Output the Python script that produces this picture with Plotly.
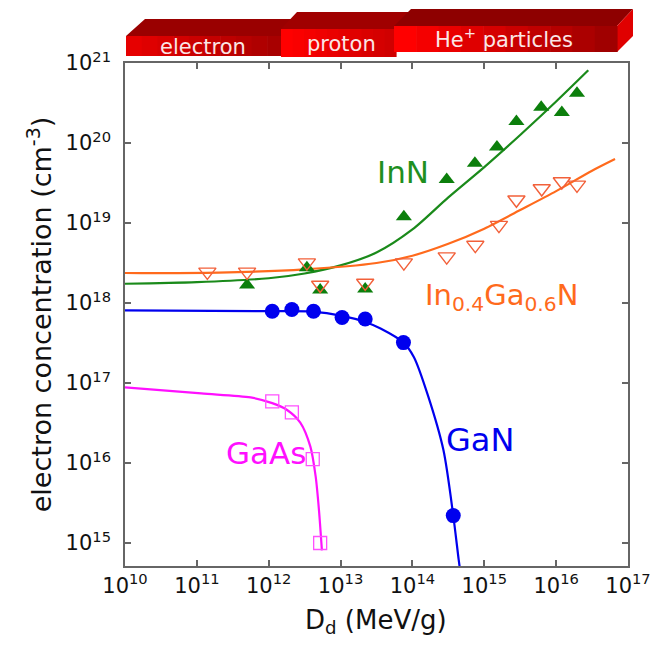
import plotly.graph_objects as go

# ---------------- data ----------------
inn_x = [5.0e11, 3.4e12, 5.2e12, 2.2e13, 7.6e13, 3.0e14, 7.4e14, 1.5e15, 2.8e15, 6.2e15, 1.2e16, 1.95e16]
inn_y = [1.68e18, 2.75e18, 1.45e18, 1.5e18, 1.2e19, 3.5e19, 5.6e19, 8.9e19, 1.86e20, 2.8e20, 2.4e20, 4.2e20]

ingan_x = [1.4e11, 5.0e11, 3.4e12, 5.2e12, 2.2e13, 7.6e13, 3.0e14, 7.5e14, 1.6e15, 2.8e15, 6.3e15, 1.2e16, 1.95e16]
ingan_y = [2.45e18, 2.45e18, 3.2e18, 1.68e18, 1.78e18, 3.2e18, 3.8e18, 5.3e18, 9.4e18, 1.95e19, 2.7e19, 3.3e19, 3.0e19]

gan_x = [1.12e12, 2.1e12, 4.2e12, 1.05e13, 2.2e13, 7.5e13, 3.7e14]
gan_y = [7.9e17, 8.3e17, 7.9e17, 6.6e17, 6.3e17, 3.2e17, 2.2e15]

gaas_x = [1.12e12, 2.1e12, 4.1e12, 5.2e12]
gaas_y = [5.9e16, 4.3e16, 1.12e16, 1.0e15]

# fitted curves
inn_fit_x = [1e10, 1e11, 1e12, 3.16e12, 1e13, 3.16e13, 1e14, 3.16e14, 1e15, 3.16e15, 1e16, 2.8e16]
inn_fit_y = [1.74e18, 1.82e18, 2.04e18, 2.34e18, 2.95e18, 4.27e18, 8.3e18, 2.09e19, 5.0e19, 1.26e20, 3.3e20, 8.1e20]

ingan_fit_x = [1e10, 2e11, 3.16e12, 3.16e13, 1e14, 3.16e14, 1e15, 3.16e15, 1e16, 3.16e16, 6.6e16]
ingan_fit_y = [2.37e18, 2.4e18, 2.63e18, 3.16e18, 3.9e18, 5.5e18, 8.5e18, 1.45e19, 2.5e19, 4.5e19, 6.3e19]

gan_fit_x = [1e10, 1.1e12, 4.0e12, 1.05e13, 2.2e13, 3.6e13, 7.5e13, 1.05e14, 1.66e14, 2.7e14, 3.7e14, 4.4e14, 4.7e14]
gan_fit_y = [8.1e17, 7.9e17, 7.8e17, 6.9e17, 5.8e17, 4.8e17, 3.2e17, 2.1e17, 6.8e16, 1.45e16, 2.2e15, 6.2e14, 4.0e14]

gaas_fit_x = [1e10, 1.15e11, 5.6e11, 1.12e12, 1.8e12, 2.75e12, 3.8e12, 4.5e12, 5.0e12, 5.5e12]
gaas_fit_y = [8.8e16, 7.4e16, 6.6e16, 5.6e16, 4.6e16, 3.2e16, 1.6e16, 6.8e15, 2.6e15, 8.1e14]

x_tick_exp = [10, 11, 12, 13, 14, 15, 16, 17]
y_tick_exp = [15, 16, 17, 18, 19, 20, 21]

x_title = "D<sub>d</sub> (MeV/g)"
y_title = "electron concentration (cm<sup>-3</sup>)"
series_labels = ["InN", "In<sub>0.4</sub>Ga<sub>0.6</sub>N", "GaN", "GaAs"]
banner_labels = ["electron", "proton", "He<sup>+</sup> particles"]

# ---------------- styles ----------------
GREEN = "#0c7f0c"
GREEN_TXT = "#1f8f1f"
ORANGE = "#ff6a1c"
ORANGE_MK = "#f2603a"
BLUE = "#0000ee"
MAGENTA = "#ff10ff"
FONT = "DejaVu Sans, Arial, sans-serif"

fig = go.Figure()

def line(x, y, color):
    fig.add_trace(go.Scatter(x=x, y=y, mode="lines", line=dict(color=color, width=2.2, shape="spline", smoothing=0.8),
                             hoverinfo="skip", showlegend=False))

line(gaas_fit_x, gaas_fit_y, MAGENTA)
line(gan_fit_x, gan_fit_y, BLUE)
line(inn_fit_x, inn_fit_y, "#1a8a1a")
line(ingan_fit_x, ingan_fit_y, ORANGE)

fig.add_trace(go.Scatter(x=gaas_x, y=gaas_y, mode="markers",
                         marker=dict(symbol="square-open", size=13, color="#ff50ff", line=dict(width=1.3)),
                         showlegend=False))
fig.add_trace(go.Scatter(x=gan_x, y=gan_y, mode="markers",
                         marker=dict(symbol="circle", size=15, color=BLUE, line=dict(width=0)),
                         showlegend=False))
fig.add_trace(go.Scatter(x=inn_x, y=inn_y, mode="markers",
                         marker=dict(symbol="triangle-up", size=14, color=GREEN, line=dict(width=0)),
                         showlegend=False))
fig.add_trace(go.Scatter(x=ingan_x, y=ingan_y, mode="markers",
                         marker=dict(symbol="triangle-down-open", size=15, color=ORANGE_MK, line=dict(width=1.4)),
                         showlegend=False))

# ---------------- layout geometry ----------------
# body margin removed in the page; plot box at x 125..628, y 63..566
W, H = 652, 646
SX0, SX1, SY0, SY1 = 125, 628, 63, 566
L, R, T, B = SX0, W - SX1, SY0, H - SY1

def px(xs):
    return (xs - SX0) / (SX1 - SX0)

def py(ys):
    return (SY1 - ys) / (SY1 - SY0)

axis_common = dict(type="log", showgrid=False, zeroline=False, showline=True, linecolor="#666666", linewidth=1.6,
                   mirror="allticks", ticks="inside", ticklen=6, tickcolor="#666666", tickwidth=1.5,
                   automargin=False, tickfont=dict(family=FONT, size=21, color="#111111"))

fig.update_xaxes(**axis_common, range=[10, 17],
                 tickvals=[10.0 ** e for e in x_tick_exp],
                 ticktext=["10<sup>%d</sup>" % e for e in x_tick_exp])
fig.update_yaxes(**axis_common, range=[14.7125, 21.0],
                 tickvals=[10.0 ** e for e in y_tick_exp],
                 ticktext=["10<sup>%d</sup>" % e for e in y_tick_exp],
                 ticklabelstandoff=8,
                 title=dict(text=y_title, font=dict(family=FONT, size=27, color="#111111"), standoff=6))

fig.add_annotation(x=px(376), y=py(621), xref="paper", yref="paper", text=x_title, showarrow=False,
                   xanchor="center", yanchor="middle", font=dict(family=FONT, size=26, color="#111111"))

# ---------------- series labels ----------------
label_pos = [(403, 172, GREEN_TXT, 31), (501, 297, ORANGE, 29), (480, 440, BLUE, 32), (266, 453, MAGENTA, 31)]
for txt, (lx, ly, c, fs) in zip(series_labels, label_pos):
    fig.add_annotation(x=px(lx), y=py(ly), xref="paper", yref="paper", text=txt, showarrow=False,
                       xanchor="center", yanchor="middle", font=dict(family=FONT, size=fs, color=c))

# ---------------- banner (3D boxes) ----------------
def poly(points, color):
    d = "M " + " L ".join("%f,%f" % (px(a), py(b)) for a, b in points) + " Z"
    fig.add_shape(type="path", path=d, xref="paper", yref="paper", fillcolor=color, line=dict(width=0), layer="above")

def mix(c1, c2, t):
    a = [int(c1[i:i + 2], 16) for i in (1, 3, 5)]
    b = [int(c2[i:i + 2], 16) for i in (1, 3, 5)]
    return "#%02x%02x%02x" % tuple(round(a[k] + (b[k] - a[k]) * t) for k in range(3))

def front(x0, x1, y0, y1, c_left, c_right, n=10):
    step = (x1 - x0) / n
    for i in range(n):
        poly([(x0 + i * step, y0), (x0 + (i + 1) * step + 0.6, y0), (x0 + (i + 1) * step + 0.6, y1), (x0 + i * step, y1)],
             mix(c_left, c_right, i / (n - 1)))

# electron box
poly([(126, 36), (145, 19), (300, 19), (300, 36)], "#9a0000")
front(126, 283, 36, 56, "#e60000", "#a80000")
# proton box
poly([(281, 29), (297, 12), (415, 12), (415, 29)], "#a00000")
front(281, 396, 29, 57, "#ff0000", "#d00000")
# He+ box
poly([(394, 26), (411, 9), (633, 9), (617, 26)], "#8e0000")
poly([(617, 26), (633, 9), (633, 36), (617, 52)], "#e00000")
front(394, 617, 26, 52, "#ff0000", "#a00000")

banner_pos = [(203, 47), (341, 44), (504, 38)]
for txt, (bx, by) in zip(banner_labels, banner_pos):
    fig.add_annotation(x=px(bx), y=py(by), xref="paper", yref="paper", text=txt, showarrow=False,
                       xanchor="center", yanchor="middle",
                       font=dict(family=FONT, size=21, color="#fbe6e6"))

fig.update_layout(width=W, height=H, margin=dict(l=L, r=R, t=T, b=B),
                  paper_bgcolor="white", plot_bgcolor="white", showlegend=False)

fig.write_html("out.html", config={"displayModeBar": False},
               post_script="document.body.style.margin='0';document.documentElement.style.overflow='hidden';")
